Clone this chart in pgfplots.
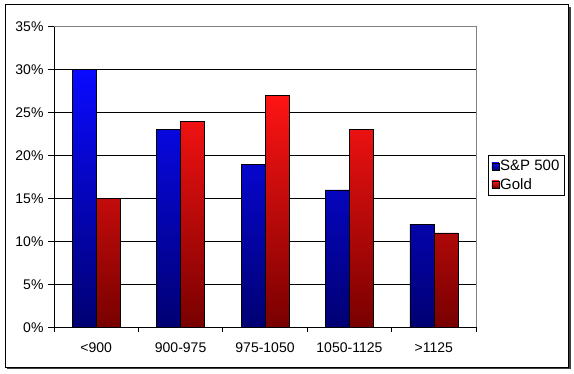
\documentclass[border=0pt]{standalone}
\usepackage{pgfplots}
\pgfplotsset{compat=1.18}
\usepackage{fontspec}
\setmainfont{Liberation Sans}
\definecolor{bartopblue}{RGB}{10,10,255}
\definecolor{barbotblue}{RGB}{0,0,115}
\definecolor{bartopred}{RGB}{255,20,20}
\definecolor{barbotred}{RGB}{120,0,0}
\begin{document}
\begin{tikzpicture}[x=1pt,y=1pt,font=\fontsize{14}{16}\selectfont]
\path[fill=white] (0,0) rectangle (574,373);
\draw[line width=2pt,black!75] (7,5) -- (569.5,5) -- (569.5,366);
\draw[line width=1pt,black] (5,6) rectangle (568.5,368);
\begin{axis}[
  at={(64,53)}, anchor=south west,
  scale only axis, width=422pt, height=301pt,
  xmin=-0.5, xmax=4.5, ymin=0, ymax=35,
  ybar=0pt, bar width=24pt,
  axis x line*=bottom, axis y line*=left,
  axis line style={black, line width=0.8pt},
  xtick={0,1,2,3,4},
  xticklabels={{<900},{900-975},{975-1050},{1050-1125},{>1125}},
  minor xtick={-0.5,0.5,1.5,2.5,3.5,4.5},
  major x tick style={draw=none},
  minor tick length=5pt,
  minor x tick style={black, line width=0.8pt},
  xticklabel style={yshift=-6pt},
  ytick={0,5,...,35},
  yticklabel={\pgfmathprintnumber{\tick}\%},
  /pgf/number format/assume math mode=true,
  tick align=outside, major tick length=6pt,
  y tick style={black, line width=0.8pt},
  yticklabel style={xshift=-1pt},
  ymajorgrids, grid style={black, line width=0.8pt},
  legend style={at={(1.028,0.5714)}, anchor=north west, draw=black, line width=0.8pt,
    fill=white, inner xsep=3.5pt, inner ysep=3.5pt, row sep=4pt,
    nodes={inner sep=1pt},
    font=\fontsize{15}{17}\selectfont, cells={anchor=west}},
  legend image code/.code={\draw[#1, line width=0.5pt] (0pt,-3.5pt) rectangle (7pt,3.5pt);},
  clip=false,
]
\addplot[draw=black, line width=0.6pt, top color=bartopblue, bottom color=barbotblue] coordinates {(0,30) (1,23) (2,19) (3,16) (4,12)};
\addplot[draw=black, line width=0.6pt, top color=bartopred, bottom color=barbotred] coordinates {(0,15) (1,24) (2,27) (3,23) (4,11)};
\legend{S\&P 500, Gold}
\draw[gray, line width=0.8pt] (rel axis cs:0,1) -- (rel axis cs:1,1) -- (rel axis cs:1,0);
\end{axis}
\end{tikzpicture}
\end{document}
